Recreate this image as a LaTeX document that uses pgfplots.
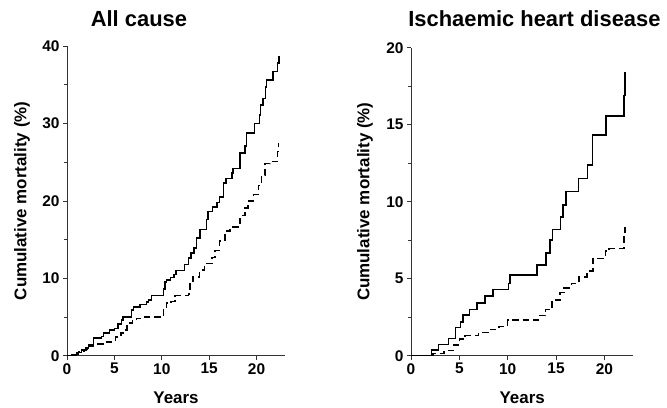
\documentclass[border=0pt]{standalone}
\usepackage{pgfplots}
\pgfplotsset{compat=1.18}
\usepackage{fontspec}
\setmainfont{Liberation Sans}
\pgfplotsset{
  km/.style={
    scale only axis,
    axis x line*=bottom, axis y line*=left,
    axis line style={line width=0.7pt, black!80},
    xmin=0, xmax=23, ymin=0,
    xtick={0,5,10,15,20},
    minor y tick num=1,
    tick align=outside,
    tick style={line width=0.6pt, black!80},
    major tick length=4bp, minor tick length=3bp,
    xtick pos=left, ytick pos=left,
    /pgf/number format/assume math mode=true,
    tick label style={font=\fontsize{15.5}{17}\selectfont\bfseries},
    label style={font=\fontsize{17}{19}\selectfont\bfseries},
    title style={font=\fontsize{22}{25}\selectfont\bfseries, anchor=base, inner sep=0pt},
    xlabel=Years,
    ylabel={Cumulative mortality (\%)},
    xlabel style={at={(axis description cs:0.5,-0.136)}, anchor=center},
    ylabel style={at={(axis description cs:-0.206,0.5)}, anchor=center},
  },
  solidkm/.style={const plot, black, line width=1.6pt, mark=none},
  dashkm/.style={const plot, black, line width=1.6pt, mark=none, dash pattern=on 6.5bp off 4bp},
}
\begin{document}
\begin{tikzpicture}
\useasboundingbox (0,0) rectangle (667bp,408bp);
\begin{axis}[km,
  at={(67bp,52.3bp)}, anchor=south west,
  width=218bp, height=309.7bp,
  ymax=40, ytick={0,10,20,30,40},
  title={All cause},
  title style={at={(axis description cs:0.33,1)}, yshift=14bp},
]
\addplot[solidkm] coordinates {
(0,0) (0.5,0.1) (1.0,0.4) (1.55,0.7) (2.0,1.0) (2.25,1.4) (2.8,2.25) (3.65,2.5)
(3.85,2.9) (4.5,3.3) (5.0,3.5) (5.4,4.1) (5.75,4.6) (5.9,5.0) (6.8,5.9) (7.0,6.3)
(7.7,6.6) (8.4,6.9) (8.6,7.2) (8.93,7.75) (10.16,8.6) (10.35,9.5) (10.5,9.8)
(10.9,10.1) (11.3,10.5) (11.5,11.0) (12.4,11.8) (12.8,12.6) (13.1,13.3) (13.4,13.9)
(13.68,15.2) (14.03,16.3) (14.73,17.6) (14.9,18.6) (15.35,19.2) (15.8,19.8)
(16.1,20.5) (16.5,22.3) (16.8,22.9) (17.4,23.6) (17.5,24.2) (18.25,26.2) (18.8,27.1)
(18.95,28.8) (19.8,30.0) (20.3,31.1) (20.4,32.4) (20.7,33.2) (20.96,34.7)
(21.06,35.6) (21.76,36.7) (22.2,37.8) (22.36,38.6) (22.4,38.6)
};
\addplot[dashkm] coordinates {
(0,0) (0.7,0.2) (1.2,0.5) (1.8,0.8) (2.3,1.2) (2.8,1.5) (3.8,1.8) (5.1,2.4)
(5.7,2.9) (5.9,3.3) (6.3,3.8) (6.5,4.2) (6.9,4.5) (7.35,4.8) (8.05,5.0) (10.2,6.0)
(10.5,6.8) (11.0,7.0) (11.4,7.75) (12.8,8.0) (13.0,9.3) (13.3,10.2) (14.0,11.1)
(14.5,11.9) (15.3,12.7) (15.6,13.6) (16.1,14.8) (16.7,16.1) (17.2,16.6) (18.25,18.1)
(18.8,19.1) (19.1,20.0) (19.66,20.8) (20.2,22.0) (20.5,23.3) (20.9,24.8) (21.4,25.1)
(22.2,26.4) (22.3,27.4) (22.36,27.4)
};
\end{axis}
\begin{axis}[km,
  at={(411bp,52.3bp)}, anchor=south west,
  width=222.4bp, height=308bp,
  ymax=20, ytick={0,5,10,15,20},
  title={Ischaemic heart disease},
  title style={at={(axis description cs:0.555,1)}, yshift=15.7bp},
  ylabel style={at={(axis description cs:-0.207,0.5)}},
]
\addplot[solidkm] coordinates {
(0,0) (2.14,0.37) (2.83,0.74) (3.86,1.13) (4.6,1.82) (5.1,2.2) (5.4,2.64) (6.03,3.0)
(6.8,3.44) (7.66,3.87) (8.45,4.31) (10.07,4.7) (10.24,5.24) (13.0,5.89) (13.97,6.65)
(14.4,7.5) (14.65,8.2) (15.48,9.0) (15.7,9.8) (16.03,10.65) (17.31,11.5) (18.24,12.4)
(18.79,14.33) (20.17,15.56) (22.03,16.9) (22.14,18.4) (22.15,18.4)
};
\addplot[dashkm] coordinates {
(0,0) (2.3,0.15) (3.4,0.35) (4.4,0.7) (5.0,1.1) (5.6,1.3) (7.0,1.5) (8.1,1.7)
(9.1,1.9) (10.0,2.3) (13.2,2.6) (13.9,3.0) (14.6,3.6) (15.4,4.1) (15.8,4.4)
(16.6,4.7) (17.4,5.1) (18.2,5.5) (18.8,6.3) (20.1,6.8) (20.5,6.95) (22.0,7.7)
(22.1,8.3) (22.15,8.3)
};
\end{axis}
\end{tikzpicture}
\end{document}
